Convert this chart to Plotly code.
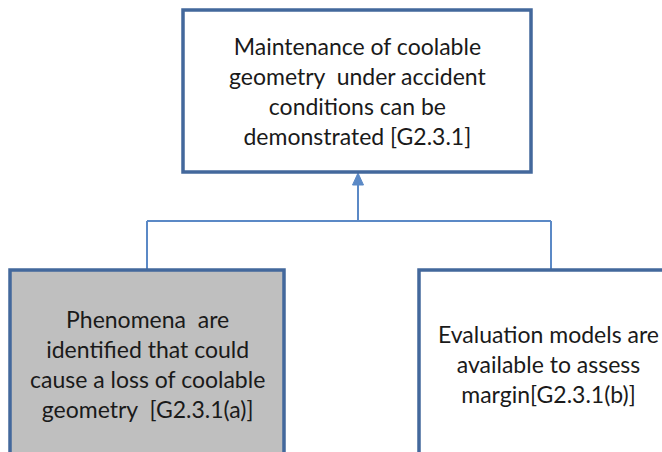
import plotly.graph_objects as go

# Node texts
labels = [
    "Maintenance of coolable<br>geometry  under accident<br>conditions can be<br>demonstrated [G2.3.1]",
    "Phenomena  are<br>identified that could<br>cause a loss of coolable<br>geometry  [G2.3.1(a)]",
    "Evaluation models are<br>available to assess<br>margin[G2.3.1(b)]",
]
fills = ["#ffffff", "#bfbfbf", "#ffffff"]

W, H = 662, 452
# box layout (pixel coords, y downwards)
boxes = [
    dict(x0=183, y0=10, x1=531, y1=172, tx=357, ty=91),
    dict(x0=10, y0=270, x1=284, y1=480, tx=147, ty=364),
    dict(x0=419, y0=270, x1=690, y1=480, tx=548, ty=364),
]

border = "#43689c"
link = "#5b89c6"

shapes = []
# connectors
shapes.append(dict(type="line", x0=147, y0=221, x1=551, y1=221, line=dict(color=link, width=2)))
shapes.append(dict(type="line", x0=147, y0=221, x1=147, y1=270, line=dict(color=link, width=2)))
shapes.append(dict(type="line", x0=551, y0=221, x1=551, y1=270, line=dict(color=link, width=2)))
shapes.append(dict(type="line", x0=358, y0=221, x1=358, y1=182, line=dict(color=link, width=2)))
shapes.append(dict(type="path", path="M 358 173 L 352.5 185 L 363.5 185 Z",
                   fillcolor=link, line=dict(color=link, width=1)))

annotations = []
for b, lab, fc in zip(boxes, labels, fills):
    shapes.append(dict(type="rect", x0=b["x0"], y0=b["y0"], x1=b["x1"], y1=b["y1"],
                       fillcolor=fc, line=dict(color=border, width=3.5)))
    annotations.append(dict(x=b["tx"], y=b["ty"], xref="x", yref="y", text=lab,
                            showarrow=False, align="center",
                            font=dict(family="Lato, Open Sans, sans-serif", size=23, color="#1a1a1a")))

fig = go.Figure()
fig.update_layout(
    width=W, height=H,
    margin=dict(l=0, r=0, t=0, b=0),
    paper_bgcolor="white", plot_bgcolor="white",
    xaxis=dict(range=[0, W], visible=False, fixedrange=True),
    yaxis=dict(range=[H, 0], visible=False, fixedrange=True),
    shapes=shapes, annotations=annotations, showlegend=False,
)
fig.write_html("out.html", config={"displayModeBar": False, "staticPlot": True},
               post_script="document.body.style.margin='0';document.body.style.overflow='hidden';")
